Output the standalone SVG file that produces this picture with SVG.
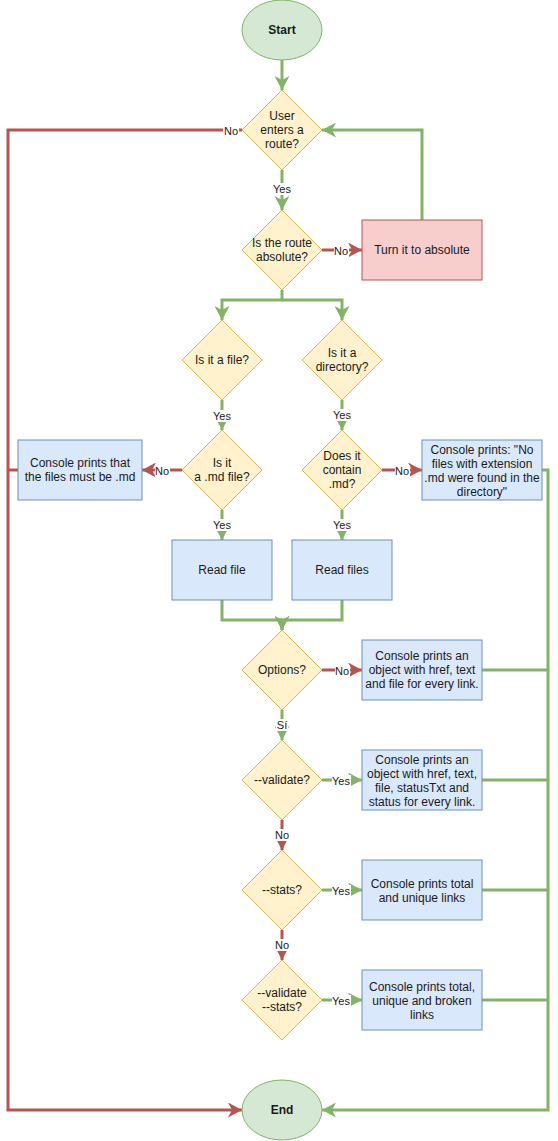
<svg xmlns="http://www.w3.org/2000/svg" width="558" height="1141" viewBox="0 0 558 1141">
<defs>
<style>
.g{fill:none;stroke:#82b366;stroke-width:3}
.r{fill:none;stroke:#b85450;stroke-width:3}
.ga{marker-end:url(#ag)}
.ra{marker-end:url(#ar)}
.dia{fill:#fff2cc;stroke:#d6b656;stroke-width:1}
.box{fill:#dae8fc;stroke:#6c8ebf;stroke-width:1}
.red{fill:#f8cecc;stroke:#b85450;stroke-width:1}
.ell{fill:#d5e8d4;stroke:#82b366;stroke-width:1}
text{font-family:"Liberation Sans",Arial,Helvetica,sans-serif;fill:#1a1a1a;text-anchor:middle}
.t{font-size:12px}
.b{font-size:12px;font-weight:bold}
.l{font-size:11px}
.lb{fill:#ffffff;stroke:none}
</style>
<marker id="ag" markerUnits="userSpaceOnUse" markerWidth="14" markerHeight="15" refX="14" refY="7.5" orient="auto"><path d="M0,0 L14,7.5 L0,15 L4,7.5 Z" fill="#82b366"/></marker>
<marker id="ar" markerUnits="userSpaceOnUse" markerWidth="14" markerHeight="15" refX="14" refY="7.5" orient="auto"><path d="M0,0 L14,7.5 L0,15 L4,7.5 Z" fill="#b85450"/></marker>
</defs>

<g id="connectors">
<path class="g ga" d="M282,60 V90"/>
<path class="g ga" d="M282,170 V210"/>
<path class="r ra" d="M242,130 H8 V1110 H242"/>
<path class="r ra" d="M322,250 H362"/>
<path class="g ga" d="M422,220 V130 H322"/>
<path class="g ga" d="M282,290 V300 H222 V320"/>
<path class="g ga" d="M282,300 H342 V320"/>
<path class="g ga" d="M222,400 V430"/>
<path class="g ga" d="M342,400 V430"/>
<path class="r ra" d="M182,470 H142"/>
<path class="r ra" d="M382,470 H422"/>
<path class="g ga" d="M222,510 V540"/>
<path class="g ga" d="M342,510 V540"/>
<path class="g ga" d="M222,600 V620 H282 V630"/>
<path class="g ga" d="M342,600 V620 H282 V630"/>
<path class="r" d="M18,470 H8"/>
<path class="g ga" d="M542,470 H548 V1110 H322"/>
<path class="r ra" d="M322,670 H362"/>
<path class="g" d="M482,670 H548"/>
<path class="g ga" d="M282,710 V740"/>
<path class="g ga" d="M322,780 H362"/>
<path class="g" d="M482,780 H548"/>
<path class="r ra" d="M282,820 V850"/>
<path class="g ga" d="M322,890 H362"/>
<path class="g" d="M482,890 H548"/>
<path class="r ra" d="M282,930 V960"/>
<path class="g ga" d="M322,1000 H362"/>
<path class="g" d="M482,1000 H548"/>
<g id="labels">
<rect class="lb" x="223" y="125" width="16" height="12"/><text class="l" x="231" y="135">No</text>
<rect class="lb" x="272" y="183" width="20" height="12"/><text class="l" x="282" y="193">Yes</text>
<rect class="lb" x="334" y="245" width="15" height="12"/><text class="l" x="341" y="255">No</text>
<rect class="lb" x="212" y="410" width="20" height="12"/><text class="l" x="222" y="420">Yes</text>
<rect class="lb" x="332" y="409" width="20" height="12"/><text class="l" x="342" y="419">Yes</text>
<rect class="lb" x="155" y="465" width="15" height="12"/><text class="l" x="162" y="475">No</text>
<rect class="lb" x="395" y="465" width="15" height="12"/><text class="l" x="402" y="475">No</text>
<rect class="lb" x="212" y="519" width="20" height="12"/><text class="l" x="222" y="529">Yes</text>
<rect class="lb" x="332" y="519" width="20" height="12"/><text class="l" x="342" y="529">Yes</text>
<rect class="lb" x="335" y="665" width="15" height="12"/><text class="l" x="342" y="675">No</text>
<rect class="lb" x="276" y="719" width="12" height="12"/><text class="l" x="282" y="729">Sí</text>
<rect class="lb" x="332" y="775" width="19" height="12"/><text class="l" x="341" y="785">Yes</text>
<rect class="lb" x="275" y="829" width="15" height="12"/><text class="l" x="282" y="839">No</text>
<rect class="lb" x="332" y="885" width="19" height="12"/><text class="l" x="341" y="895">Yes</text>
<rect class="lb" x="275" y="939" width="15" height="12"/><text class="l" x="282" y="949">No</text>
<rect class="lb" x="332" y="995" width="19" height="12"/><text class="l" x="341" y="1005">Yes</text>
</g>
</g>

<g id="start"><ellipse class="ell" cx="282" cy="30" rx="40" ry="30"/><text class="b" x="282" y="34">Start</text></g>
<g id="user-route"><path class="dia" d="M282,90 L322,130 L282,170 L242,130 Z"/><text class="t" x="282" y="120">User</text><text class="t" x="282" y="134">enters a</text><text class="t" x="282" y="148">route?</text></g>
<g id="absolute"><path class="dia" d="M282,210 L322,250 L282,290 L242,250 Z"/><text class="t" x="282" y="247">Is the route</text><text class="t" x="282" y="261">absolute?</text></g>
<g id="turn-absolute"><rect class="red" x="362" y="220" width="120" height="60"/><text class="t" x="422" y="254">Turn it to absolute</text></g>
<g id="is-file"><path class="dia" d="M222,320 L262,360 L222,400 L182,360 Z"/><text class="t" x="222" y="364">Is it a file?</text></g>
<g id="is-dir"><path class="dia" d="M342,320 L382,360 L342,400 L302,360 Z"/><text class="t" x="342" y="357">Is it a</text><text class="t" x="342" y="371">directory?</text></g>
<g id="is-md"><path class="dia" d="M222,430 L262,470 L222,510 L182,470 Z"/><text class="t" x="222" y="467">Is it</text><text class="t" x="222" y="481">a .md file?</text></g>
<g id="contains-md"><path class="dia" d="M342,430 L382,470 L342,510 L302,470 Z"/><text class="t" x="342" y="460">Does it</text><text class="t" x="342" y="474">contain</text><text class="t" x="342" y="488">.md?</text></g>
<g id="must-be-md"><rect class="box" x="18" y="440" width="124" height="60"/><text class="t" x="80" y="467">Console prints that</text><text class="t" x="80" y="481">the files must be .md</text></g>
<g id="no-md-files"><rect class="box" x="422" y="440" width="120" height="60"/><text class="t" x="482" y="454">Console prints: "No</text><text class="t" x="482" y="468">files with extension</text><text class="t" x="482" y="482">.md were found in the</text><text class="t" x="482" y="496">directory"</text></g>
<g id="read-file"><rect class="box" x="172" y="540" width="100" height="60"/><text class="t" x="222" y="574">Read file</text></g>
<g id="read-files"><rect class="box" x="292" y="540" width="100" height="60"/><text class="t" x="342" y="574">Read files</text></g>
<g id="options"><path class="dia" d="M282,630 L322,670 L282,710 L242,670 Z"/><text class="t" x="282" y="674">Options?</text></g>
<g id="print-links"><rect class="box" x="362" y="640" width="120" height="60"/><text class="t" x="422" y="660">Console prints an</text><text class="t" x="422" y="674">object with href, text</text><text class="t" x="422" y="688">and file for every link.</text></g>
<g id="validate"><path class="dia" d="M282,740 L322,780 L282,820 L242,780 Z"/><text class="t" x="282" y="784">--validate?</text></g>
<g id="print-validate"><rect class="box" x="362" y="750" width="120" height="60"/><text class="t" x="422" y="764">Console prints an</text><text class="t" x="422" y="778">object with href, text,</text><text class="t" x="422" y="792">file, statusTxt and</text><text class="t" x="422" y="806">status for every link.</text></g>
<g id="stats"><path class="dia" d="M282,850 L322,890 L282,930 L242,890 Z"/><text class="t" x="282" y="894">--stats?</text></g>
<g id="print-stats"><rect class="box" x="362" y="860" width="120" height="60"/><text class="t" x="422" y="888">Console prints total</text><text class="t" x="422" y="902">and unique links</text></g>
<g id="validate-stats"><path class="dia" d="M282,960 L322,1000 L282,1040 L242,1000 Z"/><text class="t" x="282" y="997">--validate</text><text class="t" x="282" y="1011">--stats?</text></g>
<g id="print-validate-stats"><rect class="box" x="362" y="970" width="120" height="60"/><text class="t" x="422" y="991">Console prints total,</text><text class="t" x="422" y="1005">unique and broken</text><text class="t" x="422" y="1019">links</text></g>
<g id="end"><ellipse class="ell" cx="282" cy="1110" rx="40" ry="30"/><text class="b" x="282" y="1114">End</text></g>
</svg>
